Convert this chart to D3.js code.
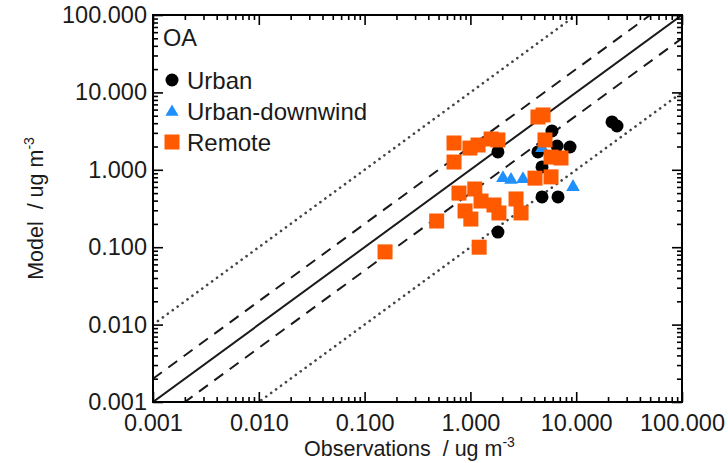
<!DOCTYPE html>
<html>
<head>
<meta charset="utf-8">
<script src="https://cdn.jsdelivr.net/npm/d3@7"></script>
<style>
  body { margin: 0; background: #fff; }
  text { font-family: "Liberation Sans", Arial, sans-serif; fill: #1a1a1a; white-space: pre; }
</style>
</head>
<body>
<div id="chart"></div>
<script>
const width = 728;
const height = 463;

// axis ticks (both axes share the same log range)
const majorTicks = [0.001, 0.01, 0.1, 1, 10, 100];
const minorMult = [2, 3, 4, 5, 6, 7, 8, 9];

// model/obs ratio lines: 1:1, 2:1, 1:2, 10:1, 1:10
const ratios = [1, 2, 0.5, 10, 0.1];

const urbanObs   = [1.82, 1.82, 5.90, 4.35, 6.59, 8.74, 4.75, 4.75, 6.73, 21.8, 24.3];
const urbanModel = [1.70, 0.157, 3.17, 1.70, 2.03, 1.97, 1.09, 0.446, 0.446, 4.15, 3.68];

const downwindObs   = [2.03, 2.42, 3.14, 9.33, 4.75];
const downwindModel = [0.78, 0.74, 0.76, 0.60, 1.91];

const remoteObs   = [4.35, 4.86, 0.70, 0.70, 0.99, 1.18, 1.57, 1.82, 0.78, 1.10, 1.26, 1.67, 1.86,
                     0.89, 1.01, 0.48, 2.70, 3.01, 1.21, 0.156, 5.07, 5.78, 7.18, 4.08, 5.78];
const remoteModel = [4.81, 5.11, 2.22, 1.26, 1.91, 2.09, 2.50, 2.43, 0.50, 0.565, 0.395, 0.351, 0.277,
                     0.294, 0.231, 0.218, 0.42, 0.277, 0.10, 0.087, 2.43, 1.46, 1.42, 0.78, 0.81];

const legendLabels = ["Urban", "Urban-downwind", "Remote"];

const orange = "#ff5a00";
const blue = "#2090ff";

const margin = { top: 15, right: 46, bottom: 61, left: 153 };

const svg = d3.select("#chart").append("svg")
  .attr("width", width)
  .attr("height", height)
  .attr("viewBox", [0, 0, width, height]);

svg.append("rect").attr("width", width).attr("height", height).attr("fill", "#fff");

const x = d3.scaleLog()
  .domain([0.001, 100])
  .range([margin.left, width - margin.right]);

const y = d3.scaleLog()
  .domain([0.001, 100])
  .range([height - margin.bottom, margin.top]);

const minorTicks = majorTicks.slice(0, -1).flatMap(d => minorMult.map(m => d * m));
const fmt = d3.format(".3f");

svg.append("clipPath").attr("id", "plot-clip")
  .append("rect")
  .attr("x", x.range()[0]).attr("y", y.range()[1])
  .attr("width", x.range()[1] - x.range()[0])
  .attr("height", y.range()[0] - y.range()[1]);

// ratio lines
const isDotted = d => d === 10 || d === 0.1;
const lineGroup = svg.append("g").attr("clip-path", "url(#plot-clip)");
lineGroup.selectAll("line")
  .data(ratios)
  .join("line")
  .attr("x1", x(0.001)).attr("y1", d => y(0.001 * d))
  .attr("x2", x(100)).attr("y2", d => y(100 * d))
  .attr("stroke", d => isDotted(d) ? "#444" : "#1a1a1a")
  .attr("stroke-width", d => isDotted(d) ? 2.6 : 2)
  .attr("stroke-linecap", d => isDotted(d) ? "round" : "butt")
  .attr("stroke-dasharray", d => d === 1 ? null : (isDotted(d) ? "0.1,6" : "11,8"));

// data points: circles, triangles, then squares on top
const urban = urbanObs.map((o, i) => ({ obs: o, model: urbanModel[i] }));
const downwind = downwindObs.map((o, i) => ({ obs: o, model: downwindModel[i] }));
const remote = remoteObs.map((o, i) => ({ obs: o, model: remoteModel[i] }));

svg.append("g").selectAll("circle")
  .data(urban)
  .join("circle")
  .attr("cx", d => x(d.obs))
  .attr("cy", d => y(d.model))
  .attr("r", 6.5)
  .attr("fill", "#000");

const tri = d3.symbol(d3.symbolTriangle, 80);
svg.append("g").selectAll("path")
  .data(downwind)
  .join("path")
  .attr("d", tri)
  .attr("transform", d => `translate(${x(d.obs)},${y(d.model)})`)
  .attr("fill", blue);

const sq = 15;
svg.append("g").selectAll("rect")
  .data(remote)
  .join("rect")
  .attr("x", d => x(d.obs) - sq / 2)
  .attr("y", d => y(d.model) - sq / 2)
  .attr("width", sq)
  .attr("height", sq)
  .attr("fill", orange);

// axes with inward ticks on all four sides
function addAxis(axisFn, scale, transform, labels) {
  const major = svg.append("g").attr("transform", transform)
    .call(axisFn(scale).tickValues(majorTicks).tickSizeInner(-10).tickSizeOuter(0)
      .tickPadding(labels ? 6 : 0).tickFormat(labels ? fmt : ""));
  svg.append("g").attr("transform", transform)
    .call(axisFn(scale).tickValues(minorTicks).tickSizeInner(-5).tickSizeOuter(0).tickFormat(""));
  return major;
}

const xb = addAxis(d3.axisBottom, x, `translate(0,${y.range()[0]})`, true);
addAxis(d3.axisTop, x, `translate(0,${y.range()[1]})`, false);
const yl = addAxis(d3.axisLeft, y, `translate(${x.range()[0]},0)`, true);
addAxis(d3.axisRight, y, `translate(${x.range()[1]},0)`, false);

svg.selectAll(".domain").remove();
svg.selectAll(".tick line").attr("stroke", "#000").attr("stroke-width", 1.6);
svg.selectAll(".tick text")
  .attr("font-size", 23.5)
  .attr("fill", "#1a1a1a");
xb.selectAll(".tick text").attr("dy", "0.76em").attr("y", 11);

// frame
svg.append("rect")
  .attr("x", x.range()[0]).attr("y", y.range()[1])
  .attr("width", x.range()[1] - x.range()[0])
  .attr("height", y.range()[0] - y.range()[1])
  .attr("fill", "none")
  .attr("stroke", "#000")
  .attr("stroke-width", 2);

// axis titles
const xt = svg.append("text")
  .attr("x", (x.range()[0] + x.range()[1]) / 2 - 8)
  .attr("y", 456)
  .attr("text-anchor", "middle")
  .attr("font-size", 21.5);
xt.append("tspan").text("Observations  / ug m");
xt.append("tspan").attr("dy", -9).attr("font-size", 14).text("-3");

const yt = svg.append("text")
  .attr("transform", `translate(43,${(y.range()[0] + y.range()[1]) / 2}) rotate(-90)`)
  .attr("text-anchor", "middle")
  .attr("font-size", 21.5);
yt.append("tspan").text("Model  / ug m");
yt.append("tspan").attr("dy", -9).attr("font-size", 14).text("-3");

// panel label
svg.append("text")
  .attr("x", 163).attr("y", 46)
  .attr("font-size", 23.5)
  .text("OA");

// legend
const legendY = d3.scalePoint().domain(legendLabels).range([80, 142]);
const legend = svg.append("g");
legend.selectAll("text")
  .data(legendLabels)
  .join("text")
  .attr("x", 187)
  .attr("y", d => legendY(d) + 9)
  .attr("font-size", 24)
  .text(d => d);

legend.append("circle")
  .attr("cx", 172).attr("cy", legendY("Urban")).attr("r", 6.5).attr("fill", "#000");
legend.append("path")
  .attr("d", d3.symbol(d3.symbolTriangle, 75))
  .attr("transform", `translate(172,${legendY("Urban-downwind") + 1})`)
  .attr("fill", blue);
legend.append("rect")
  .attr("x", 172 - 7.5).attr("y", legendY("Remote") - 7.5)
  .attr("width", 15).attr("height", 15)
  .attr("fill", orange);
</script>
</body>
</html>
